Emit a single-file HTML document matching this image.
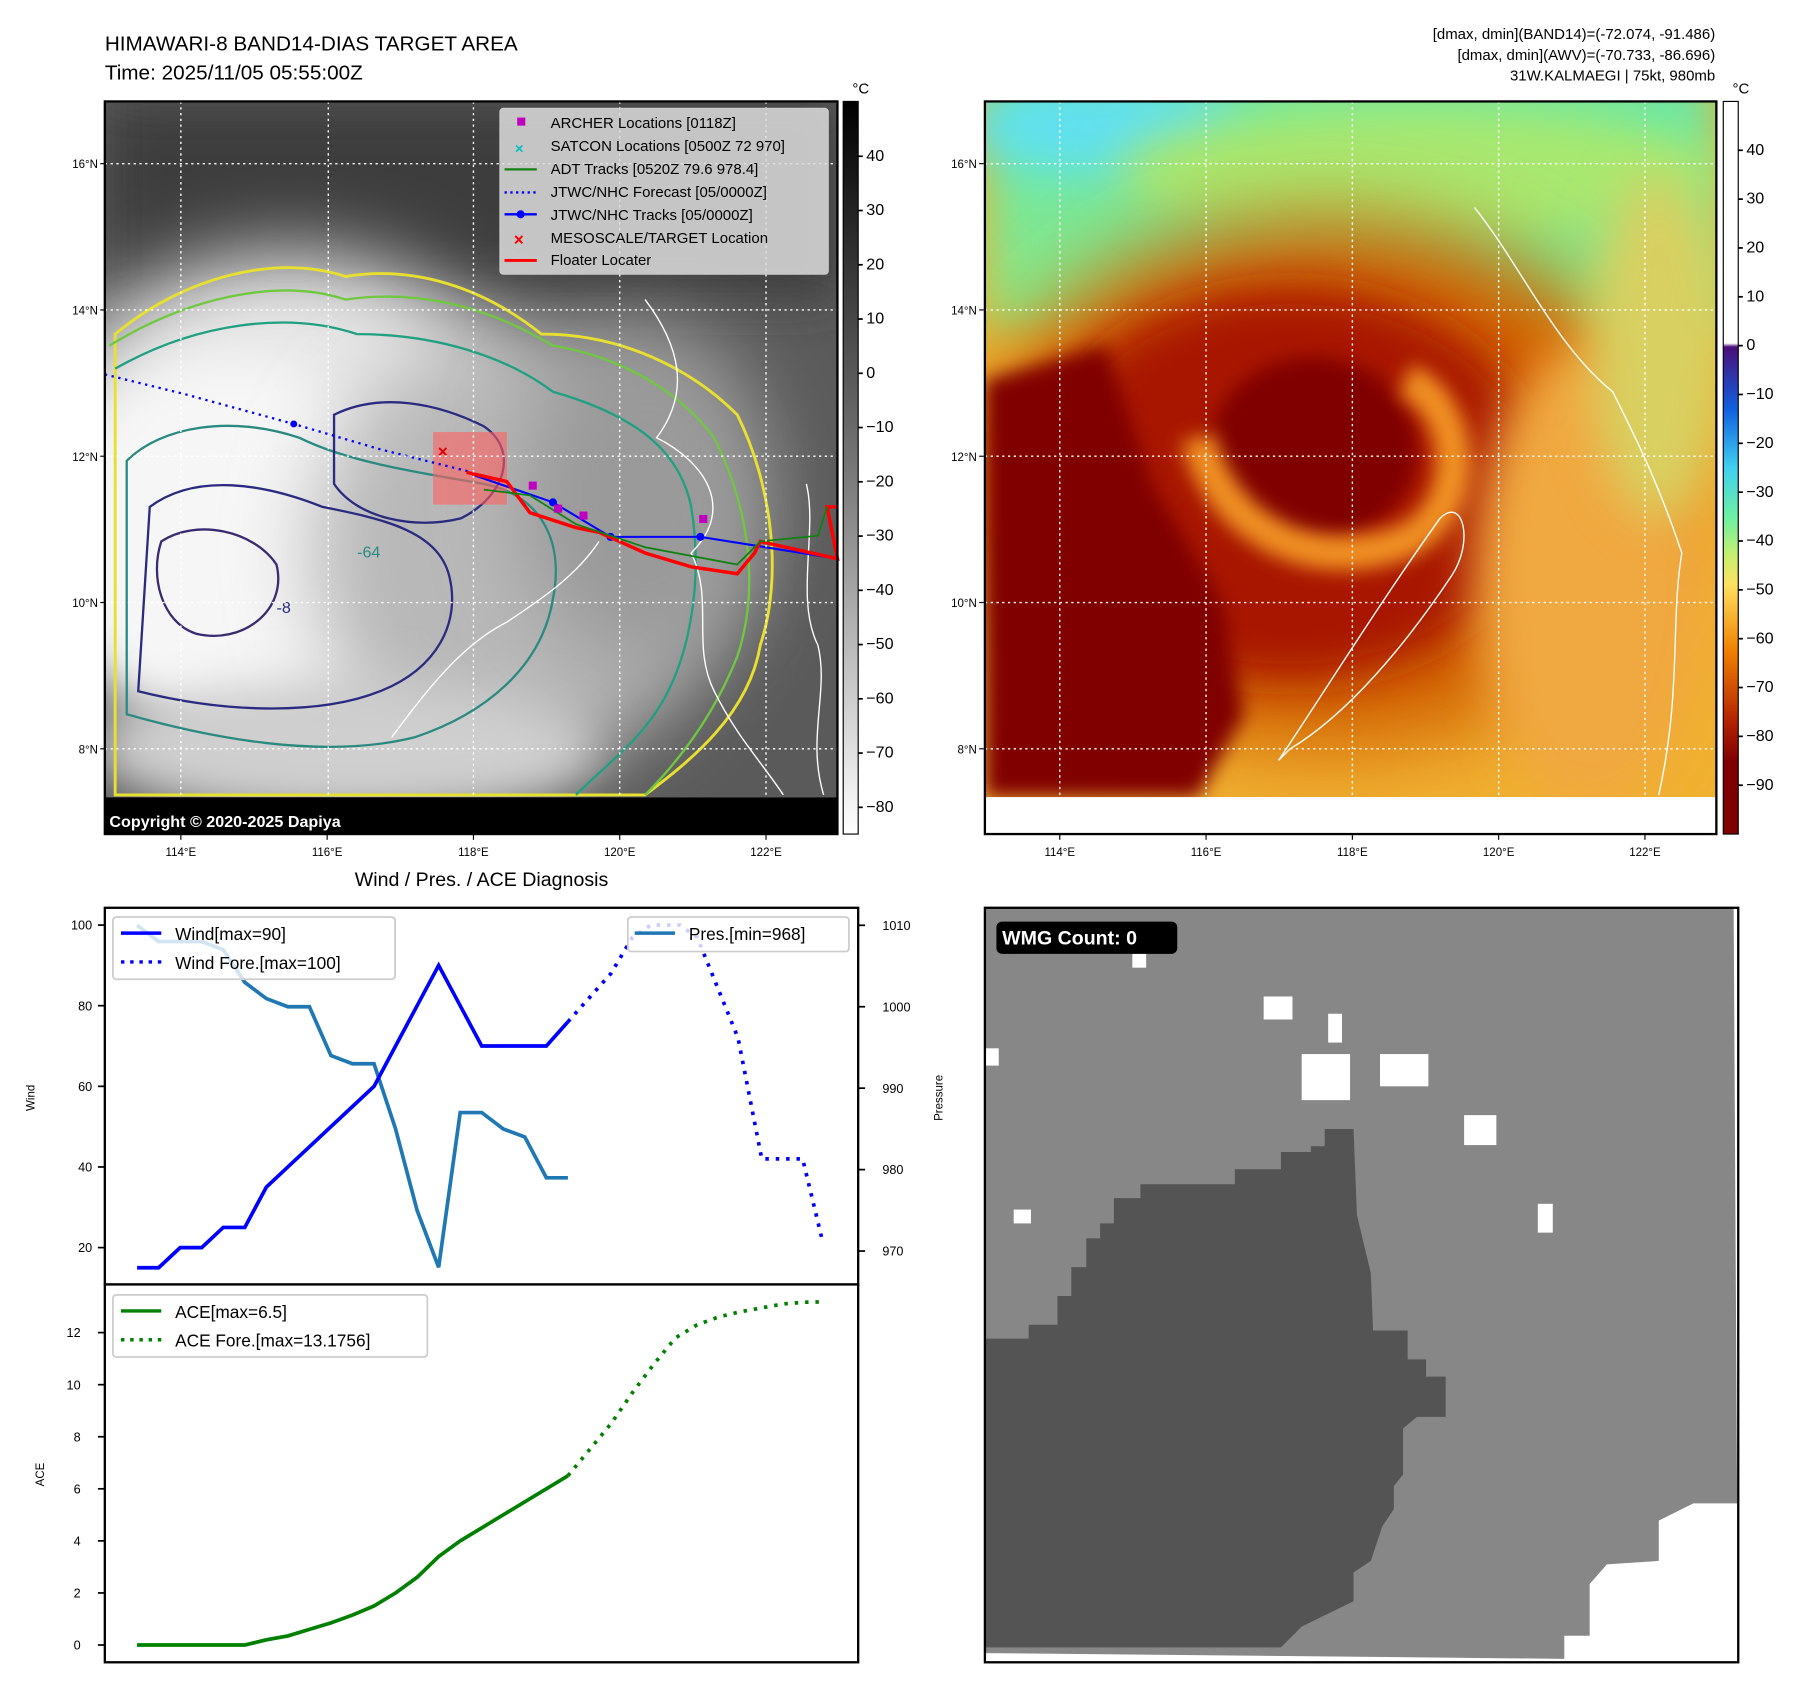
<!DOCTYPE html>
<html><head><meta charset="utf-8"><style>
html,body{margin:0;padding:0;background:#fff;}
svg{display:block;font-family:"Liberation Sans","DejaVu Sans",sans-serif;}
</style></head><body>
<svg id="fig" width="1797" height="1690" viewBox="0 0 1560 1467" xmlns="http://www.w3.org/2000/svg">
<defs>
<filter id="blur8" filterUnits="userSpaceOnUse" x="0" y="0" width="1560" height="1467"><feGaussianBlur stdDeviation="8"/></filter>
<filter id="blur20" filterUnits="userSpaceOnUse" x="0" y="0" width="1560" height="1467"><feGaussianBlur stdDeviation="20"/></filter>
<filter id="blur35" filterUnits="userSpaceOnUse" x="0" y="0" width="1560" height="1467"><feGaussianBlur stdDeviation="35"/></filter>
<clipPath id="clipL"><rect x="91" y="88" width="636" height="604"/></clipPath>
<clipPath id="clipR"><rect x="855" y="88" width="635" height="604"/></clipPath>
<linearGradient id="cbGray" x1="0" y1="0" x2="0" y2="1"><stop offset="0" stop-color="#000"/><stop offset="0.5" stop-color="#777"/><stop offset="1" stop-color="#fff"/></linearGradient>
<linearGradient id="cbTemp" x1="0" y1="0" x2="0" y2="1">
<stop offset="0" stop-color="#fff"/><stop offset="0.33" stop-color="#fff"/><stop offset="0.335" stop-color="#4b0f7a"/>
<stop offset="0.42" stop-color="#1060e0"/><stop offset="0.5" stop-color="#40d0f0"/><stop offset="0.57" stop-color="#70f0a0"/>
<stop offset="0.62" stop-color="#c8f070"/><stop offset="0.66" stop-color="#ffe060"/><stop offset="0.75" stop-color="#f08000"/>
<stop offset="0.85" stop-color="#b02000"/><stop offset="0.9" stop-color="#800000"/><stop offset="1" stop-color="#800000"/></linearGradient>
<linearGradient id="topGreen" x1="0" y1="0" x2="0" y2="1"><stop offset="0" stop-color="#60e8b0"/><stop offset="1" stop-color="#90e880"/></linearGradient>
</defs>

<text x="91" y="44" font-size="18">HIMAWARI-8 BAND14-DIAS TARGET AREA</text>
<text x="91" y="69" font-size="18">Time: 2025/11/05 05:55:00Z</text>
<g font-size="13" text-anchor="end">
<text x="1489" y="34">[dmax, dmin](BAND14)=(-72.074, -91.486)</text>
<text x="1489" y="52">[dmax, dmin](AWV)=(-70.733, -86.696)</text>
<text x="1489" y="70">31W.KALMAEGI | 75kt, 980mb</text>
</g>

<g clip-path="url(#clipL)">
<rect x="91" y="88" width="636" height="604" fill="#5a5a5a"/>
<rect x="91" y="88" width="636" height="170" fill="#3c3c3c" filter="url(#blur20)"/>
<ellipse cx="250" cy="430" rx="230" ry="210" fill="#e8e8e8" filter="url(#blur35)"/>
<ellipse cx="200" cy="470" rx="150" ry="160" fill="#f6f6f6" filter="url(#blur20)"/>
<ellipse cx="450" cy="480" rx="180" ry="190" fill="#b8b8b8" filter="url(#blur35)"/>
<ellipse cx="560" cy="430" rx="110" ry="150" fill="#9a9a9a" filter="url(#blur35)"/>
<ellipse cx="300" cy="650" rx="220" ry="60" fill="#cfcfcf" filter="url(#blur20)"/>
<path d="M100 290 C160 240 240 220 300 240 C360 230 420 250 470 290 C540 290 600 320 640 360 C670 420 680 500 660 560 C650 620 600 660 560 690 L100 690 Z" fill="none" stroke="#e8e030" stroke-width="2.5"/>
<path d="M95 300 C160 260 240 240 300 260 C370 250 430 270 480 300 C540 310 590 340 620 380 C650 440 660 510 640 570 C620 620 590 660 560 690" fill="none" stroke="#70c840" stroke-width="2"/>
<path d="M100 320 C170 280 250 270 310 290 C380 290 440 310 480 340 C550 360 590 390 600 440 C610 500 600 560 580 600 C560 640 530 660 500 690" fill="none" stroke="#20a080" stroke-width="2"/>
<path d="M110 620 C180 640 280 660 360 640 C420 620 470 580 480 520 C490 470 470 430 420 420 C360 410 300 400 260 380 C200 360 140 370 110 400 Z" fill="none" stroke="#2a8a80" stroke-width="2"/>
<path d="M120 600 C200 620 280 620 330 600 C380 580 400 540 390 500 C380 460 330 450 280 440 C230 420 170 410 130 440 Z" fill="none" stroke="#2a2a80" stroke-width="2"/>
<path d="M290 360 C330 340 380 350 420 370 C450 390 440 430 400 450 C360 460 310 450 290 420 Z" fill="none" stroke="#2a2a80" stroke-width="2"/>
<path d="M140 470 C170 450 220 460 240 490 C250 530 210 560 170 550 C140 540 130 500 140 470 Z" fill="none" stroke="#3a2a70" stroke-width="2"/>
<text x="310" y="484" font-size="14" fill="#2a8a80">-64</text>
<text x="240" y="532" font-size="14" fill="#2a2a80">-8</text>
<path d="M560 260 C590 300 600 340 570 380 C610 400 640 440 600 480 C620 520 600 560 620 600 C640 640 660 660 680 690" fill="none" stroke="#fff" stroke-width="1.2"/>
<path d="M340 640 C370 600 400 560 440 540 C470 520 500 500 520 470" fill="none" stroke="#fff" stroke-width="1.2"/>
<path d="M700 420 C710 460 690 520 710 560 C720 600 700 640 715 690" fill="none" stroke="#fff" stroke-width="1.2"/>
</g>
<rect x="91" y="692" width="636" height="32" fill="#000"/>
<text x="95" y="718" font-size="14" font-weight="bold" fill="#fff">Copyright © 2020-2025 Dapiya</text>
<rect x="376" y="375" width="64" height="63" fill="#ff6060" opacity="0.6"/>
<text x="380" y="397" font-size="15" font-weight="bold" fill="#e00000">×</text>
<polyline points="91,325 160,342 255,368 330,390 410,410" fill="none" stroke="#0000ff" stroke-width="2" stroke-dasharray="2,4"/>
<polyline points="410,412 480,436 530,466 608,466 727,485" fill="none" stroke="#0000ff" stroke-width="1.8"/>
<g fill="#0000ff"><circle cx="480" cy="436" r="3.5"/><circle cx="530" cy="466" r="3.5"/><circle cx="608" cy="466" r="3.5"/><circle cx="255" cy="368" r="3"/></g>
<polyline points="405,410 440,418 460,445 500,458 520,462 560,480 600,492 640,498 655,480 660,470 727,485 718,440 727,440" fill="none" stroke="#ff0000" stroke-width="3"/>
<polyline points="420,425 460,430 500,455 560,475 640,490 660,470 710,465 718,440" fill="none" stroke="#108010" stroke-width="1.5"/>
<g fill="#c000c0"><rect x="459" y="418" width="7" height="7"/><rect x="481" y="438" width="7" height="7"/><rect x="503" y="444" width="7" height="7"/><rect x="607" y="447" width="7" height="7"/></g>
<g stroke="#fff" stroke-width="1.2" stroke-dasharray="2,3">
<line x1="157" y1="88" x2="157" y2="692"/><line x1="285" y1="88" x2="285" y2="692"/><line x1="411" y1="88" x2="411" y2="692"/><line x1="538" y1="88" x2="538" y2="692"/><line x1="665" y1="88" x2="665" y2="692"/>
<line x1="91" y1="142" x2="727" y2="142"/><line x1="91" y1="269" x2="727" y2="269"/><line x1="91" y1="396" x2="727" y2="396"/><line x1="91" y1="523" x2="727" y2="523"/><line x1="91" y1="650" x2="727" y2="650"/>
</g>
<rect x="91" y="88" width="636" height="636" fill="none" stroke="#000" stroke-width="2"/>
<g>
<rect x="434" y="94" width="285" height="144" rx="3" fill="#ddd" fill-opacity="0.85" stroke="#ccc"/>
<g font-size="13" fill="#000">
<rect x="449" y="102" width="7" height="7" fill="#c000c0"/><text x="478" y="111">ARCHER Locations [0118Z]</text>
<text x="447" y="133" fill="#00c0c0" font-size="13" font-weight="bold">×</text><text x="478" y="131">SATCON Locations [0500Z 72 970]</text>
<line x1="438" y1="147" x2="466" y2="147" stroke="#108010" stroke-width="2"/><text x="478" y="151">ADT Tracks [0520Z 79.6 978.4]</text>
<line x1="438" y1="167" x2="466" y2="167" stroke="#00f" stroke-width="2" stroke-dasharray="2,3"/><text x="478" y="171">JTWC/NHC Forecast [05/0000Z]</text>
<line x1="438" y1="186" x2="466" y2="186" stroke="#00f" stroke-width="2"/><circle cx="452" cy="186" r="3.5" fill="#00f"/><text x="478" y="191">JTWC/NHC Tracks [05/0000Z]</text>
<text x="446" y="213" fill="#f00" font-size="15" font-weight="bold">×</text><text x="478" y="211">MESOSCALE/TARGET Location</text>
<line x1="438" y1="226" x2="466" y2="226" stroke="#f00" stroke-width="2.5"/><text x="478" y="230">Floater Locater</text>
</g></g>
<rect x="732" y="88" width="13" height="636" fill="url(#cbGray)" stroke="#000"/>
<text x="740" y="81" font-size="13">°C</text>
<g id="cbLticks" font-size="14"></g>
<g id="mapLticks" font-size="10"></g>

<g clip-path="url(#clipR)">
<rect x="855" y="88" width="635" height="604" fill="#f0b030"/>
<rect x="855" y="60" width="635" height="230" fill="url(#topGreen)" filter="url(#blur20)"/>
<ellipse cx="960" cy="110" rx="120" ry="40" fill="#60e0f0" filter="url(#blur20)"/>
<ellipse cx="1230" cy="150" rx="260" ry="60" fill="#a8e870" filter="url(#blur20)"/>
<ellipse cx="1150" cy="420" rx="300" ry="230" fill="#d06000" filter="url(#blur35)"/>
<ellipse cx="1120" cy="420" rx="220" ry="170" fill="#a81800" filter="url(#blur20)"/>
<ellipse cx="1140" cy="390" rx="90" ry="80" fill="#800000" filter="url(#blur8)"/>
<path d="M1040 380 C1060 460 1140 500 1220 470 C1280 440 1270 350 1220 330" fill="none" stroke="#f09020" stroke-width="30" filter="url(#blur8)"/>
<path d="M855 330 L960 300 L1000 420 L1060 520 L1080 620 L1040 692 L855 692 Z" fill="#800000" filter="url(#blur8)"/>
<ellipse cx="1380" cy="500" rx="100" ry="200" fill="#f0a840" filter="url(#blur20)"/>
<ellipse cx="1440" cy="300" rx="60" ry="150" fill="#d8d060" filter="url(#blur20)"/>
<path d="M1110 660 C1150 600 1200 520 1250 450 C1270 430 1280 470 1260 500 C1220 560 1170 620 1120 650 Z" fill="none" stroke="#fff" stroke-width="1.2"/>
<path d="M1280 180 C1320 230 1350 300 1400 340 C1420 380 1440 420 1460 480 C1450 540 1460 600 1440 690" fill="none" stroke="#fff" stroke-width="1.2"/>
</g>
<rect x="855" y="692" width="635" height="32" fill="#fff"/>
<g stroke="#fff" stroke-width="1.2" stroke-dasharray="2,3">
<line x1="920" y1="88" x2="920" y2="692"/><line x1="1047" y1="88" x2="1047" y2="692"/><line x1="1174" y1="88" x2="1174" y2="692"/><line x1="1301" y1="88" x2="1301" y2="692"/><line x1="1428" y1="88" x2="1428" y2="692"/>
<line x1="855" y1="142" x2="1490" y2="142"/><line x1="855" y1="269" x2="1490" y2="269"/><line x1="855" y1="396" x2="1490" y2="396"/><line x1="855" y1="523" x2="1490" y2="523"/><line x1="855" y1="650" x2="1490" y2="650"/>
</g>
<rect x="855" y="88" width="635" height="636" fill="none" stroke="#000" stroke-width="2"/>
<rect x="1496" y="88" width="13" height="636" fill="url(#cbTemp)" stroke="#000"/>
<text x="1504" y="81" font-size="13">°C</text>
<g id="cbRticks" font-size="14"></g>
<g id="mapRticks" font-size="10"></g>

<text x="418" y="769" font-size="17" text-anchor="middle">Wind / Pres. / ACE Diagnosis</text>
<rect x="91" y="788" width="654" height="327" fill="#fff" stroke="#000" stroke-width="2"/>
<rect x="91" y="1115" width="654" height="328" fill="#fff" stroke="#000" stroke-width="2"/>
<text transform="translate(30,953) rotate(-90)" font-size="10" text-anchor="middle">Wind</text>
<text transform="translate(818,953) rotate(-90)" font-size="10" text-anchor="middle">Pressure</text>
<text transform="translate(38,1280) rotate(-90)" font-size="10" text-anchor="middle">ACE</text>
<g id="chartMarks"></g>
<g>
<rect x="98" y="796" width="245" height="54" rx="3" fill="#fff" fill-opacity="0.8" stroke="#ccc" stroke-width="1.5"/>
<line x1="105" y1="810" x2="140" y2="810" stroke="#0000ff" stroke-width="3"/><text x="152" y="816" font-size="15">Wind[max=90]</text>
<line x1="105" y1="835" x2="140" y2="835" stroke="#0000ff" stroke-width="3" stroke-dasharray="3,5"/><text x="152" y="841" font-size="15">Wind Fore.[max=100]</text>
</g>
<g>
<rect x="545" y="796" width="192" height="30" rx="3" fill="#fff" fill-opacity="0.8" stroke="#ccc" stroke-width="1.5"/>
<line x1="551" y1="810" x2="586" y2="810" stroke="#1f77b4" stroke-width="3"/><text x="598" y="816" font-size="15">Pres.[min=968]</text>
</g>
<g>
<rect x="98" y="1124" width="273" height="54" rx="3" fill="#fff" fill-opacity="0.8" stroke="#ccc" stroke-width="1.5"/>
<line x1="105" y1="1138" x2="140" y2="1138" stroke="#008000" stroke-width="3"/><text x="152" y="1144" font-size="15">ACE[max=6.5]</text>
<line x1="105" y1="1163" x2="140" y2="1163" stroke="#008000" stroke-width="3" stroke-dasharray="3,5"/><text x="152" y="1169" font-size="15">ACE Fore.[max=13.1756]</text>
</g>

<g>
<rect x="855" y="788" width="654" height="655" fill="#fff"/>
<polygon points="855,788 1505,788 1508,1305 1470,1305 1440,1320 1440,1355 1395,1358 1380,1375 1380,1420 1358,1420 1358,1440 855,1435" fill="#878787"/>
<polygon points="855,1162 893,1162 893,1150 918,1150 918,1125 930,1125 930,1100 943,1100 943,1075 955,1075 955,1062 967,1062 967,1040 990,1040 990,1028 1072,1028 1072,1015 1112,1015 1112,1000 1138,1000 1138,995 1150,995 1150,980 1175,980 1178,1055 1190,1105 1192,1155 1222,1155 1222,1180 1238,1180 1238,1195 1255,1195 1255,1230 1230,1230 1218,1240 1218,1280 1210,1290 1210,1310 1200,1325 1190,1355 1175,1365 1175,1390 1130,1412 1112,1430 855,1430" fill="#545454"/>
<g fill="#fff"><rect x="1097" y="865" width="25" height="20"/><rect x="1153" y="880" width="12" height="25"/><rect x="1130" y="915" width="42" height="40"/><rect x="1198" y="915" width="42" height="28"/><rect x="1271" y="968" width="28" height="26"/><rect x="880" y="1050" width="15" height="12"/><rect x="1335" y="1045" width="13" height="25"/><rect x="855" y="910" width="12" height="15"/><rect x="983" y="825" width="12" height="15"/></g>
<rect x="865" y="800" width="157" height="28" rx="5" fill="#000"/>
<text x="870" y="820" font-size="17" font-weight="bold" fill="#fff">WMG Count: 0</text>
<rect x="855" y="788" width="654" height="655" fill="none" stroke="#000" stroke-width="2"/>
</g>
</svg>
<script>
const windIdx = [0,1,2,3,4,5,6,7,8,9,10,11,12,13,14,15,16,17,18,19,20];
const windVals = [15,15,20,20,25,25,35,40,45,50,55,60,70,80,90,80,70,70,70,70,76];
const windForeIdx = [20,22,23,23.85,25.2,26,27.9,29,30.9,31.8];
const windForeVals = [76,88,97,100,100,97,72,42,42,22];
const presIdx = [0,1,2,3,4,5,6,7,8,9,10,11,12,13,14,15,16,17,18,19,20];
const presVals = [1010,1008,1008,1008,1007,1003,1001,1000,1000,994,993,993,985,975,968,987,987,985,984,979,979];
const aceIdx = [0,1,2,3,4,5,6,7,8,9,10,11,12,13,14,15,16,17,18,19,20];
const aceVals = [0,0,0,0,0,0,0.2,0.35,0.6,0.85,1.15,1.5,2.0,2.6,3.4,4.0,4.5,5.0,5.5,6.0,6.5];
const aceForeIdx = [20,21,22,23,24,25,26,27,28,29,30,31,31.8];
const aceForeVals = [6.5,7.5,8.5,9.7,10.8,11.8,12.3,12.6,12.8,12.95,13.1,13.17,13.18];
const windTicks = [20,40,60,80,100];
const presTicks = [970,980,990,1000,1010];
const aceTicks = [0,2,4,6,8,10,12];
const irCbTicks = [40,30,20,10,0,-10,-20,-30,-40,-50,-60,-70,-80];
const tempCbTicks = [40,30,20,10,0,-10,-20,-30,-40,-50,-60,-70,-80,-90];
const lonTicks = [114,116,118,120,122];
const latTicks = [16,14,12,10,8];

const NS='http://www.w3.org/2000/svg';
const xS = i => 119 + i*18.7;
const yWind = v => 1083 - (v-20)*3.5;
const yPres = v => 1086 - (v-970)*7.07;
const yAce = v => 1428 - v*22.6;
function mk(tag, attrs, parent){const e=document.createElementNS(NS,tag);for(const k in attrs)e.setAttribute(k,attrs[k]);parent.appendChild(e);return e;}
const g=document.getElementById('chartMarks');
function line(xs,ys,fx,fy,color,dash,name){
  const pts=xs.map((x,i)=>fx(x).toFixed(1)+','+fy(ys[i]).toFixed(1)).join(' ');
  const p=mk('polyline',{points:pts,fill:'none',stroke:color,'stroke-width':3.2},g);
  if(dash)p.setAttribute('stroke-dasharray',dash);
  
  
}
line(presIdx,presVals,xS,yPres,'#1f77b4',null,'pressure-line');
line(windIdx,windVals,xS,yWind,'#0000ff',null,'wind-line');
line(windForeIdx,windForeVals,xS,yWind,'#0000ff','3,6','wind-forecast-line');
line(aceIdx,aceVals,xS,yAce,'#008000',null,'ace-line');
line(aceForeIdx,aceForeVals,xS,yAce,'#008000','3,6','ace-forecast-line');
function tick(x1,y,x2,tx,anchor,label,parent,fs){
  mk('line',{x1:x1,y1:y,x2:x2,y2:y,stroke:'#000','stroke-width':1.5},parent);
  const t=mk('text',{x:tx,y:y+4,'font-size':fs||11,'text-anchor':anchor},parent);t.textContent=label;
}
windTicks.forEach(v=>tick(85,yWind(v),91,80,'end',v,g));
presTicks.forEach(v=>tick(745,yPres(v),751,766,'start',v,g));
aceTicks.forEach(v=>tick(85,yAce(v),91,70,'end',v,g));
const cbL=document.getElementById('cbLticks');
irCbTicks.forEach(v=>{const y=324-v*4.71; tick(745,y,749,752,'start',String(v).replace('-','\u2212'),cbL,14);});
const cbR=document.getElementById('cbRticks');
tempCbTicks.forEach(v=>{const y=300-v*4.24; tick(1509,y,1513,1516,'start',String(v).replace('-','\u2212'),cbR,14);});
function mapTicks(id,x0){
  const el=document.getElementById(id);
  lonTicks.forEach(l=>{const x=x0+(l-114)*63.5;mk('line',{x1:x,y1:724,x2:x,y2:729,stroke:'#000'},el);
    const t=mk('text',{x:x,y:743,'font-size':10,'text-anchor':'middle'},el);t.textContent=l+'°E';});
  latTicks.forEach(l=>{const y=142+(16-l)*63.5;mk('line',{x1:x0-66-4,y1:y,x2:x0-66,y2:y,stroke:'#000'},el);
    const t=mk('text',{x:x0-72,y:y+4,'font-size':10,'text-anchor':'end'},el);t.textContent=l+'°N';});
}
mapTicks('mapLticks',157);
mapTicks('mapRticks',920);
</script>
</body></html>
